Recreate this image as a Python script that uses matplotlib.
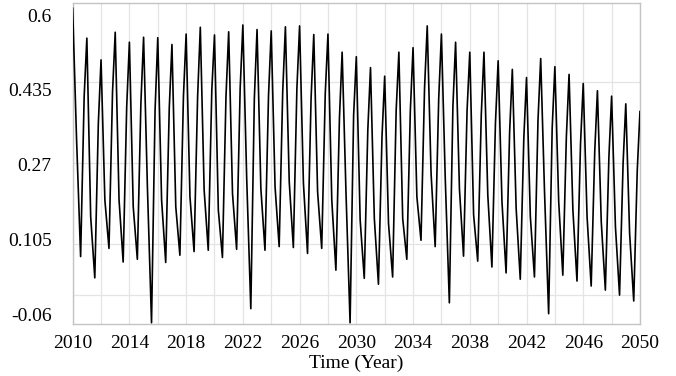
import numpy as np
import matplotlib
matplotlib.use('Agg')
import matplotlib.pyplot as plt

# Data per tahun: puncak, belokan turun, lembah, belokan naik
years = np.arange(2010, 2050)
peak = [0.615, 0.549, 0.501, 0.562, 0.540, 0.551, 0.550, 0.535, 0.558, 0.573,
        0.556, 0.563, 0.578, 0.568, 0.565, 0.574, 0.576, 0.557, 0.558, 0.518,
        0.508, 0.484, 0.465, 0.518, 0.528, 0.576, 0.558, 0.540, 0.518, 0.518,
        0.499, 0.480, 0.462, 0.504, 0.486, 0.469, 0.449, 0.433, 0.421, 0.404]
drop_kink = [0.330, 0.155, 0.192, 0.192, 0.177, 0.220, 0.192, 0.177, 0.199, 0.214,
             0.170, 0.206, 0.240, 0.217, 0.221, 0.232, 0.229, 0.210, 0.192, 0.210,
             0.148, 0.151, 0.140, 0.151, 0.199, 0.251, 0.240, 0.217, 0.159, 0.203,
             0.188, 0.173, 0.155, 0.210, 0.188, 0.170, 0.155, 0.144, 0.133, 0.118]
trough = [0.067, 0.020, 0.085, 0.055, 0.061, -0.079, 0.054, 0.070, 0.078, 0.081,
          0.065, 0.083, -0.048, 0.081, 0.089, 0.087, 0.074, 0.085, 0.037, -0.079,
          0.019, 0.006, 0.022, 0.061, 0.103, 0.089, -0.035, 0.068, 0.057, 0.044,
          0.031, 0.017, 0.022, -0.059, 0.026, 0.013, 0.002, -0.007, -0.018, -0.031]
rise_kink = [0.420, 0.361, 0.430, 0.398, 0.405, 0.390, 0.394, 0.420, 0.420, 0.434,
             0.420, 0.438, 0.416, 0.423, 0.431, 0.438, 0.416, 0.427, 0.372, 0.379,
             0.346, 0.331, 0.390, 0.390, 0.438, 0.416, 0.398, 0.390, 0.379, 0.361,
             0.342, 0.328, 0.368, 0.350, 0.331, 0.317, 0.298, 0.287, 0.273, 0.258]
phase = [0.0, 0.27, 0.56, 0.81]   # posisi titik dalam setahun
end_year, end_value = 2050, 0.387

ytick_vals = [0.6, 0.435, 0.27, 0.105, -0.06]
hgrid_vals = [0.453, 0.273, 0.094, -0.018]

# Menyusun deret waktu
t = []
v = []
for i, y in enumerate(years):
    for p, val in zip(phase, [peak[i], drop_kink[i], trough[i], rise_kink[i]]):
        t.append(y + p)
        v.append(val)
t.append(end_year)
v.append(end_value)

plt.rcParams['font.family'] = ['Liberation Serif', 'DejaVu Serif']

fig = plt.figure(figsize=(6.76, 3.76), dpi=100)
ax = fig.add_axes([0.1075, 0.138, 0.8392, 0.854])

ax.plot(t, v, color='black', linewidth=1.2, zorder=3)

ax.set_xlim(2010, 2050)
ax.set_ylim(-0.082, 0.6265)
ax.set_xticks(np.arange(2010, 2051, 4))
ax.set_xticks(np.arange(2010, 2051, 2), minor=True)
ax.set_yticks(ytick_vals)
ax.set_yticklabels([str(x) for x in ytick_vals])
ax.grid(True, which='both', axis='x', color='#e4e4e4', linewidth=0.9)
for g in hgrid_vals:
    ax.axhline(g, color='#e4e4e4', linewidth=0.9, zorder=0)
ax.set_axisbelow(True)

ax.tick_params(axis='both', which='both', length=0, labelsize=14)
ax.tick_params(axis='y', pad=15)
ax.tick_params(axis='x', pad=8)
for s in ax.spines.values():
    s.set_color('#c4c4c4')
    s.set_linewidth(1.0)

ax.set_xlabel('Time (Year)', fontsize=14, labelpad=2)

plt.savefig('out.png', dpi=100)
